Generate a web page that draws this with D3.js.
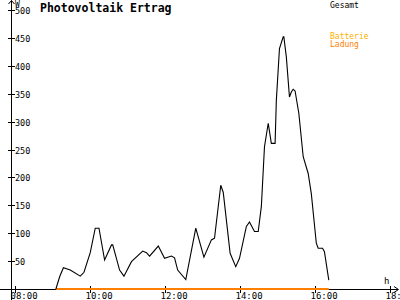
<!DOCTYPE html>
<html><head><meta charset="utf-8">
<script src="https://cdn.jsdelivr.net/npm/d3@7"></script>
<style>
html,body{margin:0;padding:0;background:#fff;}
svg{display:block;}
text{font-family:"DejaVu Sans Mono",monospace;}
</style></head>
<body>
<svg id="c" width="400" height="300"></svg>
<script>
const title = "Photovoltaik Ertrag";
const yTicks = [50,100,150,200,250,300,350,400,450,500];
const xTicks = ["08:00","10:00","12:00","14:00","16:00","18:00"];
const gesamtTimes = ["09:05","09:11","09:17","09:28","09:44","09:50","10:00","10:08","10:14","10:23","10:34","10:36","10:47","10:54","11:06","11:24","11:30","11:35","11:49","11:59","12:10","12:15","12:20","12:33","12:49","13:02","13:14","13:19","13:29","13:33","13:44","13:53","13:59","14:10","14:15","14:23","14:29","14:34","14:39","14:45","14:50","14:56","14:58","15:03","15:09","15:10","15:14","15:19","15:22","15:25","15:28","15:34","15:41","15:49","15:54","16:02","16:05","16:12","16:15","16:22"];
const gesamtValues = [0,22,38,34,23,30,65,109,109,52,79,79,34,23,49,68,65,59,77,55,59,56,34,17,109,57,88,91,186,173,64,40,55,112,120,103,103,148,255,297,261,261,338,431,452,452,416,344,353,358,355,315,237,207,171,82,73,73,67,16];
const ladungTimes = ["09:05","16:22"];
const ladungValues = [0,0];

const toH = s => { const p = s.split(":"); return +p[0] + (+p[1])/60; };
const svg = d3.select("#c");
const x = d3.scaleLinear().domain([8,18]).range([15.3,390]);
const y = d3.scaleLinear().domain([0,500]).range([289,10]);

svg.append("line").attr("x1",0).attr("x2",398).attr("y1",289.5).attr("y2",289.5).attr("stroke","#000");
svg.append("path").attr("d","M394,286.5L398.5,289.5L394,292.5").attr("fill","none").attr("stroke","#000");
svg.append("line").attr("x1",11.5).attr("x2",11.5).attr("y1",0.5).attr("y2",300).attr("stroke","#000");
svg.append("path").attr("d","M8.5,4L11.5,0.5L14.5,4").attr("fill","none").attr("stroke","#000");

const yg = svg.append("g");
yTicks.forEach(v=>{
  const yy = Math.round(y(v))+0.5;
  yg.append("line").attr("x1",8).attr("x2",15).attr("y1",yy).attr("y2",yy).attr("stroke","#000");
  yg.append("text").attr("x",15).attr("y",yy+3).attr("font-size",8.5).text(v);
});
const xg = svg.append("g");
xTicks.forEach(t=>{
  const xx = Math.round(x(toH(t)))+0.5;
  xg.append("line").attr("x1",xx).attr("x2",xx).attr("y1",286).attr("y2",293).attr("stroke","#000");
  xg.append("text").attr("x",xx-5).attr("y",299).attr("font-size",9).text(t);
});
svg.append("text").attr("x",15).attr("y",7).attr("font-size",8).text("W");
svg.append("text").attr("x",384).attr("y",284).attr("font-size",9).text("h");

svg.append("text").attr("x",40).attr("y",12).attr("font-size",11.5).attr("font-weight","bold").text(title);
svg.append("text").attr("x",330).attr("y",8).attr("font-size",8).attr("fill","#000").text("Gesamt");
svg.append("text").attr("x",330).attr("y",39).attr("font-size",8).attr("fill","#ffb000").text("Batterie");
svg.append("text").attr("x",330).attr("y",47).attr("font-size",8).attr("fill","#ff8000").text("Ladung");

const line = d3.line().x(d=>x(d[0])).y(d=>y(d[1]));
svg.append("path").datum(ladungTimes.map((t,i)=>[toH(t),ladungValues[i]]))
  .attr("d",line).attr("fill","none").attr("stroke","#ff8000").attr("stroke-width",2);
svg.append("path").datum(gesamtTimes.map((t,i)=>[toH(t),gesamtValues[i]]))
  .attr("d",line).attr("fill","none").attr("stroke","#000").attr("stroke-width",1.1);
</script>
</body></html>
